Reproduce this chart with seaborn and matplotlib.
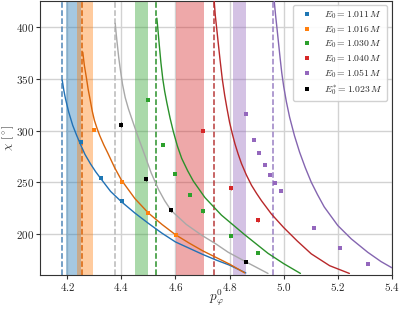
"""chi vs p_phi^0: fitted curves, critical lines and measured points for several E_0"""

import matplotlib
matplotlib.use("Agg")
import matplotlib.pyplot as plt
from matplotlib.lines import Line2D
import numpy as np
import pandas as pd
import seaborn as sns

# series labels / colours
labels = [r"$E_0 = 1.011\,M$", r"$E_0 = 1.016\,M$", r"$E_0 = 1.030\,M$",
          r"$E_0 = 1.040\,M$", r"$E_0 = 1.051\,M$", r"$E_0^{*} = 1.023\,M$"]
pt_colors = ["#1f77b4", "#ff7f0e", "#2ca02c", "#d62728", "#9467bd", "black"]
line_colors = ["#2171b5", "#d9650b", "#2a912a", "#b8282a", "#8465b0", "#a8a8a8"]
dash_colors = ["#4f86b8", "#d9650b", "#2a912a", "#b83a3a", "#9a80c4", "#b8b8b8"]

# critical p values (dashed lines)
p_crit = [4.181, 4.255, 4.528, 4.741, 4.960, 4.376]

# shaded bands (lo, hi) -- last one (E0*) has none
band_lo = [4.194, 4.236, 4.452, 4.602, 4.811, None]
band_hi = [4.249, 4.295, 4.500, 4.704, 4.859, None]

# fitted curves
curve_p = [
    [4.181, 4.187, 4.193, 4.205, 4.22, 4.235, 4.248, 4.265, 4.285, 4.305, 4.325, 4.36, 4.4, 4.45, 4.5, 4.55,
     4.6, 4.65, 4.7, 4.75, 4.8, 4.86],
    [4.257, 4.263, 4.27, 4.277, 4.285, 4.292, 4.3, 4.31, 4.32, 4.335, 4.35, 4.375, 4.4, 4.45, 4.5, 4.55, 4.6,
     4.65, 4.7, 4.75, 4.8, 4.856],
    [4.531, 4.535, 4.54, 4.546, 4.553, 4.56, 4.568, 4.58, 4.592, 4.607, 4.623, 4.645, 4.666, 4.709, 4.77,
     4.856, 4.942, 5.0, 5.062],
    [4.743, 4.747, 4.752, 4.758, 4.765, 4.773, 4.782, 4.79, 4.8, 4.81, 4.82, 4.832, 4.844, 4.862, 4.881, 4.9,
     4.918, 4.955, 5.0, 5.05, 5.102, 5.17, 5.243],
    [4.965, 4.97, 4.975, 4.981, 4.987, 4.993, 5.0, 5.01, 5.022, 5.04, 5.059, 5.08, 5.102, 5.125, 5.15, 5.2,
     5.25, 5.311, 5.36, 5.4],
    [4.377, 4.381, 4.385, 4.39, 4.395, 4.404, 4.414, 4.426, 4.439, 4.46, 4.488, 4.51, 4.537, 4.56, 4.584,
     4.64, 4.697, 4.75, 4.795, 4.862, 4.942],
]
curve_chi = [
    [349, 339, 331, 318, 305, 295, 287, 277, 268, 260, 253, 241, 231, 220, 210, 200.5, 192, 186, 180, 174.5,
     169.5, 162],
    [376, 363, 352, 340, 329, 319, 310, 302, 295, 286, 278, 264, 252, 234, 220, 209, 199, 191, 183.5, 177,
     170.5, 162],
    [409, 398, 383, 366, 350, 338, 327, 312, 299, 285, 273, 261, 251, 235, 218, 199, 181, 171, 161.5],
    [426, 412, 400, 385, 368, 350, 334, 322, 308, 297, 287, 277, 268, 257, 247, 239, 232, 219, 206, 193,
     180.5, 169, 161.5],
    [426, 412, 400, 385, 370, 356, 343, 328, 313, 295, 279, 264, 250, 238, 226, 208, 195, 182, 173, 167],
    [404, 393, 383, 371, 361, 345, 332, 321, 311, 295, 275, 259, 243, 232, 222.5, 209, 198.5, 190, 182,
     172.5, 161.5],
]

# measured points
pts_p = [
    [4.251, 4.325, 4.402],
    [4.300, 4.402, 4.500, 4.602],
    [4.500, 4.553, 4.600, 4.654, 4.703, 4.805, 4.905],
    [4.703, 4.805, 4.905],
    [4.859, 4.890, 4.909, 4.930, 4.950, 4.969, 4.989, 5.112, 5.210, 5.311],
    [4.400, 4.490, 4.584, 4.861],
]
pts_chi = [
    [288.5, 254, 231.5],
    [301, 250, 220, 199],
    [330, 286, 258, 238, 222, 198, 181],
    [300, 244.5, 213],
    [316, 291, 278, 267, 257, 249, 241, 206, 186.5, 171],
    [305.5, 253, 223, 173],
]
pts_err = [
    [1.0, 0.5, 1.0],
    [1.0, 1.0, 1.0, 0.5],
    [1.5, 0.5, 0.5, 1.0, 1.5, 1.0, 0.5],
    [0.5, 2.0, 2.0],
    [0.5, 0.5, 0.5, 0.5, 0.5, 0.5, 0.5, 0.5, 0.5, 0.5],
    [2.5, 2.0, 2.0, 1.0],
]

sns.set_style("whitegrid", {"grid.color": "#d2d2d2", "axes.edgecolor": "#333333"})
plt.rcParams["font.family"] = "serif"
plt.rcParams["font.serif"] = ["cmr10", "DejaVu Serif"]
plt.rcParams["mathtext.fontset"] = "cm"
plt.rcParams["axes.formatter.use_mathtext"] = True

fig = plt.figure(figsize=(3.99, 3.10), dpi=100)
ax = fig.add_axes([0.101, 0.113, 0.881, 0.885])
ax.set_axisbelow(True)
ax.grid(True, color="#d2d2d2", lw=1.0)

for i in range(6):
    if band_lo[i] is not None:
        ax.axvspan(band_lo[i], band_hi[i], color=pt_colors[i], alpha=0.4, lw=0, zorder=1.5)
    ax.axvline(p_crit[i], color=dash_colors[i], ls="--", lw=1.1, zorder=2)
    df = pd.DataFrame({"p": curve_p[i], "chi": curve_chi[i]})
    sns.lineplot(data=df, x="p", y="chi", color=line_colors[i], lw=1.0,
                 sort=False, estimator=None, ax=ax, zorder=3)
    ax.errorbar(pts_p[i], pts_chi[i], yerr=pts_err[i], fmt="s", ms=2.3, mew=0,
                color=pt_colors[i], ecolor=pt_colors[i], elinewidth=0.6,
                capsize=0, lw=0, zorder=4)

ax.set_xlim(4.1, 5.4)
ax.set_ylim(160, 426)
ax.set_xticks([4.2, 4.4, 4.6, 4.8, 5.0, 5.2, 5.4])
ax.set_yticks([200, 250, 300, 350, 400])
ax.tick_params(axis="both", labelsize=8, length=3, pad=1.5, color="#333333", bottom=True, left=True)
ax.set_xlabel(r"$p_\varphi^0$", fontsize=9.5)
ax.set_ylabel(r"$\chi$ [$^\circ$]", fontsize=8.5)
ax.xaxis.set_label_coords(0.5, -0.045)
ax.yaxis.set_label_coords(-0.07, 0.5)

handles = [Line2D([], [], marker="s", ms=2.3, mew=0, ls="", color=c) for c in pt_colors]
ax.legend(handles, labels, loc="upper right", fontsize=7, frameon=True,
          borderaxespad=0.5, handletextpad=0.8, labelspacing=0.3,
          framealpha=0.9, edgecolor="#cccccc")

fig.savefig("out.png", dpi=100)
